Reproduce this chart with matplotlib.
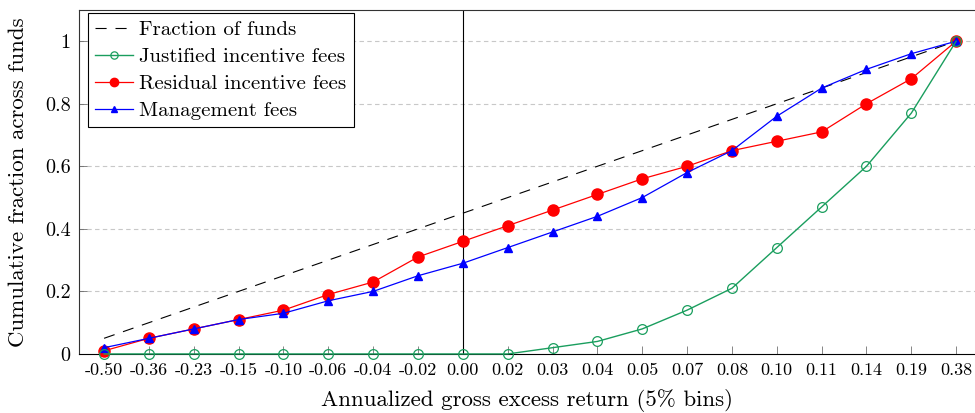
import matplotlib.pyplot as plt

plt.rcParams["font.family"] = "cmr10"
plt.rcParams["mathtext.fontset"] = "cm"
plt.rcParams["axes.unicode_minus"] = False

BINS = ["-0.50", "-0.36", "-0.23", "-0.15", "-0.10", "-0.06", "-0.04", "-0.02", "0.00", "0.02",
        "0.03", "0.04", "0.05", "0.07", "0.08", "0.10", "0.11", "0.14", "0.19", "0.38"]
FRACTION = [0.05, 0.10, 0.15, 0.20, 0.25, 0.30, 0.35, 0.40, 0.45, 0.50,
            0.55, 0.60, 0.65, 0.70, 0.75, 0.80, 0.85, 0.90, 0.95, 1.00]
JUSTIFIED = [0, 0, 0, 0, 0, 0, 0, 0, 0, 0,
             0.02, 0.04, 0.08, 0.14, 0.21, 0.34, 0.47, 0.60, 0.77, 1.00]
RESIDUAL = [0.01, 0.05, 0.08, 0.11, 0.14, 0.19, 0.23, 0.31, 0.36, 0.41,
            0.46, 0.51, 0.56, 0.60, 0.65, 0.68, 0.71, 0.80, 0.88, 1.00]
MANAGEMENT = [0.02, 0.05, 0.08, 0.11, 0.13, 0.17, 0.20, 0.25, 0.29, 0.34,
              0.39, 0.44, 0.50, 0.58, 0.65, 0.76, 0.85, 0.91, 0.96, 1.00]
YTICKS = [0, 0.2, 0.4, 0.6, 0.8, 1.0]
YTICK_LABELS = ["0", "0.2", "0.4", "0.6", "0.8", "1"]

GREEN = "#1a9e5e"

fig = plt.figure(figsize=(9.75, 4.13), dpi=100)
ax = fig.add_axes([0.081, 0.143, 0.919, 0.833])

x = list(range(len(BINS)))
ax.plot(x, FRACTION, color="black", linewidth=0.8, dashes=(10, 8), label="Fraction of funds", zorder=3)
ax.plot(x, JUSTIFIED, color=GREEN, linewidth=1.0, marker="o", markersize=7,
        markerfacecolor="none", markeredgecolor=GREEN, markeredgewidth=0.9,
        label="Justified incentive fees", zorder=6, clip_on=False)
ax.plot(x, RESIDUAL, color="red", linewidth=0.9, marker="o", markersize=8,
        label="Residual incentive fees", zorder=5, clip_on=False)
ax.plot(x, MANAGEMENT, color="blue", linewidth=0.9, marker="^", markersize=6,
        label="Management fees", zorder=5, clip_on=False)

# vertical reference line at zero excess return
ax.axvline(BINS.index("0.00"), color="black", linewidth=0.8, zorder=2)

ax.set_xlim(-0.56, 19.42)
ax.set_ylim(0, 1.1)
ax.set_xticks(x)
ax.set_xticklabels(BINS, fontsize=13)
ax.set_yticks(YTICKS)
ax.set_yticklabels(YTICK_LABELS, fontsize=14.5)
ax.tick_params(direction="in", length=6, width=0.5, color="#555555")
ax.tick_params(axis="x", pad=6)
ax.tick_params(axis="y", pad=6)
for yv in YTICKS[1:]:
    ax.axhline(yv, color="#c8c8c8", linewidth=0.8, dashes=(4, 3), zorder=1)
for s in ax.spines.values():
    s.set_linewidth(0.8)
    s.set_color("#333333")
ax.spines["bottom"].set_color("black")
ax.spines["right"].set_visible(False)

ax.set_xlabel("Annualized gross excess return (5% bins)", fontsize=16.5, labelpad=8)
ax.set_ylabel("Cumulative fraction across funds", fontsize=16.5, va="center")
ax.yaxis.set_label_coords(-0.068, 0.5)

leg = ax.legend(loc="upper left", bbox_to_anchor=(0.01, 0.99), fontsize=15, frameon=True,
                fancybox=False, edgecolor="black", framealpha=1, handlelength=1.8,
                handletextpad=0.3, borderpad=0.35, labelspacing=0.4, markerscale=0.75,
                borderaxespad=0)
leg.get_frame().set_linewidth(0.8)

fig.savefig("out.png", dpi=100, facecolor="white")
